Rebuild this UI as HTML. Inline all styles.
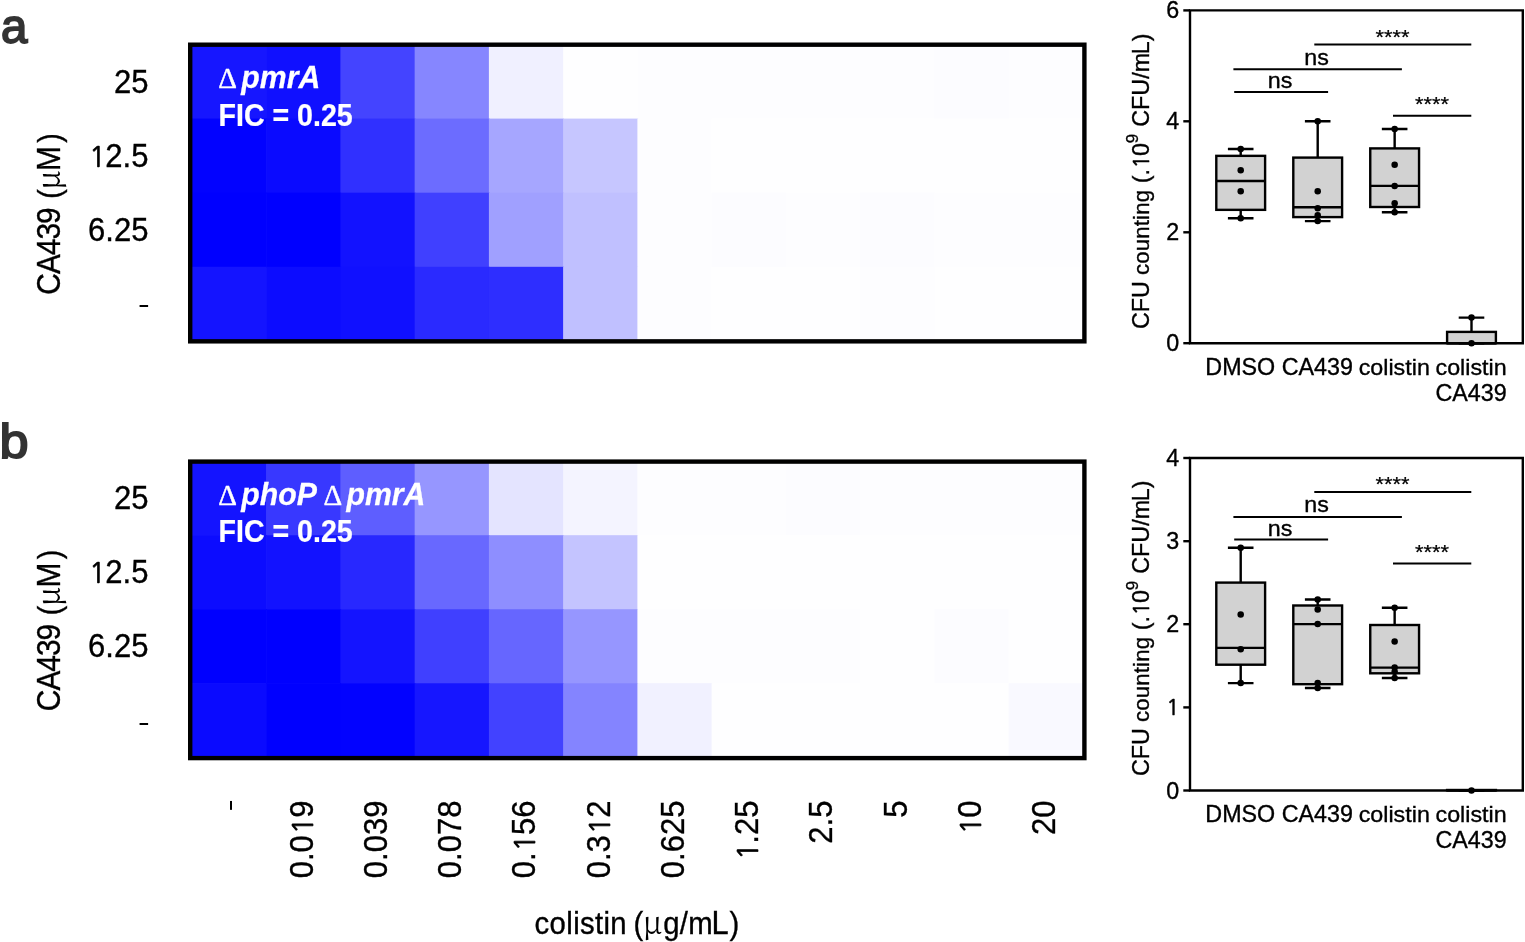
<!DOCTYPE html>
<html lang="en">
<head>
<meta charset="utf-8">
<title>Checkerboard assays and CFU counting</title>
<style>
html,body{margin:0;padding:0;background:#fff;}
body{width:1525px;height:942px;overflow:hidden;}
svg{display:block;font-family:'Liberation Sans', sans-serif;}
</style>
</head>
<body>
<svg width="1525" height="942" viewBox="0 0 1525 942">
<rect x="0" y="0" width="1525" height="942" fill="#fff"/>
<rect x="191.90" y="44.50" width="74.95" height="74.80" fill="#1616ff"/>
<rect x="266.15" y="44.50" width="74.95" height="74.80" fill="#1010ff"/>
<rect x="340.40" y="44.50" width="74.95" height="74.80" fill="#4444ff"/>
<rect x="414.65" y="44.50" width="74.95" height="74.80" fill="#8686ff"/>
<rect x="488.90" y="44.50" width="74.95" height="74.80" fill="#f0f0ff"/>
<rect x="563.15" y="44.50" width="74.95" height="74.80" fill="#fefeff"/>
<rect x="637.40" y="44.50" width="74.95" height="74.80" fill="#fdfdff"/>
<rect x="711.65" y="44.50" width="74.95" height="74.80" fill="#fdfdff"/>
<rect x="785.90" y="44.50" width="74.95" height="74.80" fill="#fdfdff"/>
<rect x="860.15" y="44.50" width="74.95" height="74.80" fill="#fdfdff"/>
<rect x="934.40" y="44.50" width="74.95" height="74.80" fill="#fcfcff"/>
<rect x="1008.65" y="44.50" width="74.95" height="74.80" fill="#fdfdff"/>
<rect x="191.90" y="118.60" width="74.95" height="74.80" fill="#0202ff"/>
<rect x="266.15" y="118.60" width="74.95" height="74.80" fill="#0a0aff"/>
<rect x="340.40" y="118.60" width="74.95" height="74.80" fill="#3030ff"/>
<rect x="414.65" y="118.60" width="74.95" height="74.80" fill="#6c6cff"/>
<rect x="488.90" y="118.60" width="74.95" height="74.80" fill="#a6a6ff"/>
<rect x="563.15" y="118.60" width="74.95" height="74.80" fill="#c6c6ff"/>
<rect x="637.40" y="118.60" width="74.95" height="74.80" fill="#fdfdff"/>
<rect x="711.65" y="118.60" width="74.95" height="74.80" fill="#fefeff"/>
<rect x="785.90" y="118.60" width="74.95" height="74.80" fill="#fefeff"/>
<rect x="860.15" y="118.60" width="74.95" height="74.80" fill="#fefeff"/>
<rect x="934.40" y="118.60" width="74.95" height="74.80" fill="#fefeff"/>
<rect x="1008.65" y="118.60" width="74.95" height="74.80" fill="#fefeff"/>
<rect x="191.90" y="192.70" width="74.95" height="74.80" fill="#0000ff"/>
<rect x="266.15" y="192.70" width="74.95" height="74.80" fill="#0000ff"/>
<rect x="340.40" y="192.70" width="74.95" height="74.80" fill="#1212ff"/>
<rect x="414.65" y="192.70" width="74.95" height="74.80" fill="#4040ff"/>
<rect x="488.90" y="192.70" width="74.95" height="74.80" fill="#a0a0ff"/>
<rect x="563.15" y="192.70" width="74.95" height="74.80" fill="#c0c0ff"/>
<rect x="637.40" y="192.70" width="74.95" height="74.80" fill="#fdfdff"/>
<rect x="711.65" y="192.70" width="74.95" height="74.80" fill="#fcfcff"/>
<rect x="785.90" y="192.70" width="74.95" height="74.80" fill="#fdfdff"/>
<rect x="860.15" y="192.70" width="74.95" height="74.80" fill="#fcfcff"/>
<rect x="934.40" y="192.70" width="74.95" height="74.80" fill="#fdfdff"/>
<rect x="1008.65" y="192.70" width="74.95" height="74.80" fill="#fdfdff"/>
<rect x="191.90" y="266.80" width="74.95" height="74.80" fill="#1414ff"/>
<rect x="266.15" y="266.80" width="74.95" height="74.80" fill="#0c0cff"/>
<rect x="340.40" y="266.80" width="74.95" height="74.80" fill="#1010ff"/>
<rect x="414.65" y="266.80" width="74.95" height="74.80" fill="#2a2aff"/>
<rect x="488.90" y="266.80" width="74.95" height="74.80" fill="#2e2eff"/>
<rect x="563.15" y="266.80" width="74.95" height="74.80" fill="#c0c0ff"/>
<rect x="637.40" y="266.80" width="74.95" height="74.80" fill="#fdfdff"/>
<rect x="711.65" y="266.80" width="74.95" height="74.80" fill="#fefeff"/>
<rect x="785.90" y="266.80" width="74.95" height="74.80" fill="#fefeff"/>
<rect x="860.15" y="266.80" width="74.95" height="74.80" fill="#fdfdff"/>
<rect x="934.40" y="266.80" width="74.95" height="74.80" fill="#fefeff"/>
<rect x="1008.65" y="266.80" width="74.95" height="74.80" fill="#fefeff"/>
<rect x="190.2" y="44.7" width="894.20" height="296.65" fill="none" stroke="#000" stroke-width="4.4"/>
<rect x="191.90" y="461.20" width="74.95" height="74.70" fill="#1414ff"/>
<rect x="266.15" y="461.20" width="74.95" height="74.70" fill="#3838ff"/>
<rect x="340.40" y="461.20" width="74.95" height="74.70" fill="#5e5eff"/>
<rect x="414.65" y="461.20" width="74.95" height="74.70" fill="#9696ff"/>
<rect x="488.90" y="461.20" width="74.95" height="74.70" fill="#e4e4ff"/>
<rect x="563.15" y="461.20" width="74.95" height="74.70" fill="#f4f4ff"/>
<rect x="637.40" y="461.20" width="74.95" height="74.70" fill="#fdfdff"/>
<rect x="711.65" y="461.20" width="74.95" height="74.70" fill="#fdfdff"/>
<rect x="785.90" y="461.20" width="74.95" height="74.70" fill="#fcfcff"/>
<rect x="860.15" y="461.20" width="74.95" height="74.70" fill="#fdfdff"/>
<rect x="934.40" y="461.20" width="74.95" height="74.70" fill="#fdfdff"/>
<rect x="1008.65" y="461.20" width="74.95" height="74.70" fill="#fdfdff"/>
<rect x="191.90" y="535.20" width="74.95" height="74.70" fill="#0c0cff"/>
<rect x="266.15" y="535.20" width="74.95" height="74.70" fill="#1212ff"/>
<rect x="340.40" y="535.20" width="74.95" height="74.70" fill="#2828ff"/>
<rect x="414.65" y="535.20" width="74.95" height="74.70" fill="#6868ff"/>
<rect x="488.90" y="535.20" width="74.95" height="74.70" fill="#8e8eff"/>
<rect x="563.15" y="535.20" width="74.95" height="74.70" fill="#c4c4ff"/>
<rect x="637.40" y="535.20" width="74.95" height="74.70" fill="#fefeff"/>
<rect x="711.65" y="535.20" width="74.95" height="74.70" fill="#fefeff"/>
<rect x="785.90" y="535.20" width="74.95" height="74.70" fill="#fefeff"/>
<rect x="860.15" y="535.20" width="74.95" height="74.70" fill="#fefeff"/>
<rect x="934.40" y="535.20" width="74.95" height="74.70" fill="#fefeff"/>
<rect x="1008.65" y="535.20" width="74.95" height="74.70" fill="#fefeff"/>
<rect x="191.90" y="609.20" width="74.95" height="74.70" fill="#0000ff"/>
<rect x="266.15" y="609.20" width="74.95" height="74.70" fill="#0000ff"/>
<rect x="340.40" y="609.20" width="74.95" height="74.70" fill="#1414ff"/>
<rect x="414.65" y="609.20" width="74.95" height="74.70" fill="#4040ff"/>
<rect x="488.90" y="609.20" width="74.95" height="74.70" fill="#6666ff"/>
<rect x="563.15" y="609.20" width="74.95" height="74.70" fill="#9696ff"/>
<rect x="637.40" y="609.20" width="74.95" height="74.70" fill="#fdfdff"/>
<rect x="711.65" y="609.20" width="74.95" height="74.70" fill="#fdfdff"/>
<rect x="785.90" y="609.20" width="74.95" height="74.70" fill="#fdfdff"/>
<rect x="860.15" y="609.20" width="74.95" height="74.70" fill="#fefeff"/>
<rect x="934.40" y="609.20" width="74.95" height="74.70" fill="#fcfcff"/>
<rect x="1008.65" y="609.20" width="74.95" height="74.70" fill="#fefeff"/>
<rect x="191.90" y="683.20" width="74.95" height="74.70" fill="#0a0aff"/>
<rect x="266.15" y="683.20" width="74.95" height="74.70" fill="#0000ff"/>
<rect x="340.40" y="683.20" width="74.95" height="74.70" fill="#0202ff"/>
<rect x="414.65" y="683.20" width="74.95" height="74.70" fill="#1616ff"/>
<rect x="488.90" y="683.20" width="74.95" height="74.70" fill="#4242ff"/>
<rect x="563.15" y="683.20" width="74.95" height="74.70" fill="#8484ff"/>
<rect x="637.40" y="683.20" width="74.95" height="74.70" fill="#f1f1ff"/>
<rect x="711.65" y="683.20" width="74.95" height="74.70" fill="#fefeff"/>
<rect x="785.90" y="683.20" width="74.95" height="74.70" fill="#fefeff"/>
<rect x="860.15" y="683.20" width="74.95" height="74.70" fill="#fefeff"/>
<rect x="934.40" y="683.20" width="74.95" height="74.70" fill="#fefeff"/>
<rect x="1008.65" y="683.20" width="74.95" height="74.70" fill="#f9f9ff"/>
<rect x="190.2" y="461.6" width="894.20" height="296.50" fill="none" stroke="#000" stroke-width="4.4"/>
<text transform="translate(148.40,93.00) scale(0.952,1)" font-size="32.6" text-anchor="end" stroke="#000" stroke-width="0.35">25</text>
<text transform="translate(148.40,166.80) scale(0.952,1)" font-size="32.6" text-anchor="end" stroke="#000" stroke-width="0.35"><tspan font-family="NanumGothic, 'Liberation Sans', sans-serif" font-size="29.34" stroke-width="0.7">1</tspan><tspan dx="-0.59">2.5</tspan></text>
<text transform="translate(148.40,240.60) scale(0.952,1)" font-size="32.6" text-anchor="end" stroke="#000" stroke-width="0.35">6.25</text>
<text transform="translate(149.80,313.00) scale(1.076,0.8)" font-size="32.6" text-anchor="end">-</text>
<text transform="translate(148.40,509.40) scale(0.952,1)" font-size="32.6" text-anchor="end" stroke="#000" stroke-width="0.35">25</text>
<text transform="translate(148.40,583.30) scale(0.952,1)" font-size="32.6" text-anchor="end" stroke="#000" stroke-width="0.35"><tspan font-family="NanumGothic, 'Liberation Sans', sans-serif" font-size="29.34" stroke-width="0.7">1</tspan><tspan dx="-0.59">2.5</tspan></text>
<text transform="translate(148.40,657.40) scale(0.952,1)" font-size="32.6" text-anchor="end" stroke="#000" stroke-width="0.35">6.25</text>
<text transform="translate(149.80,730.60) scale(1.076,0.8)" font-size="32.6" text-anchor="end">-</text>
<text transform="translate(60.20,294.70) rotate(-90) scale(0.92,1)" font-size="32.5" stroke="#000" stroke-width="0.35"><tspan x="0.00" font-size="32.5" letter-spacing="-1.1">CA439 </tspan><tspan x="104.35" font-size="30.9">(</tspan><tspan x="114.13" font-size="33" font-family="'Noto Serif CJK SC', 'Liberation Serif', serif" stroke-width="0">μ</tspan><tspan x="134.57" font-size="32.5">M</tspan><tspan x="165.22" font-size="30.9">)</tspan></text>
<text transform="translate(60.20,711.20) rotate(-90) scale(0.92,1)" font-size="32.5" stroke="#000" stroke-width="0.35"><tspan x="0.00" font-size="32.5" letter-spacing="-1.1">CA439 </tspan><tspan x="104.35" font-size="30.9">(</tspan><tspan x="114.13" font-size="33" font-family="'Noto Serif CJK SC', 'Liberation Serif', serif" stroke-width="0">μ</tspan><tspan x="134.57" font-size="32.5">M</tspan><tspan x="165.22" font-size="30.9">)</tspan></text>
<text transform="translate(218.30,88.00) scale(0.96,1)" font-size="31.5" stroke="#fff" stroke-width="0.25" fill="#fff" font-weight="bold" font-style="italic"><tspan x="0.00" font-size="30.3" font-family="'Liberation Serif', serif" font-weight="normal" font-style="normal" stroke-width="0.4">Δ</tspan><tspan x="23.96" font-size="31.5">pmrA</tspan></text>
<text transform="translate(218.50,125.90) scale(0.902,1)" font-size="31.7" stroke="#fff" stroke-width="0.25" fill="#fff" font-weight="bold">FIC = 0.25</text>
<text transform="translate(218.30,504.60) scale(0.96,1)" font-size="31.5" stroke="#fff" stroke-width="0.25" fill="#fff" font-weight="bold" font-style="italic"><tspan x="0.00" font-size="30.3" font-family="'Liberation Serif', serif" font-weight="normal" font-style="normal" stroke-width="0.4">Δ</tspan><tspan x="23.96" font-size="31.5">phoP </tspan><tspan x="109.58" font-size="30.3" font-family="'Liberation Serif', serif" font-weight="normal" font-style="normal" stroke-width="0.4">Δ</tspan><tspan x="133.54" font-size="31.5">pmrA</tspan></text>
<text transform="translate(218.50,542.00) scale(0.902,1)" font-size="31.7" stroke="#fff" stroke-width="0.25" fill="#fff" font-weight="bold">FIC = 0.25</text>
<text transform="translate(237.83,799.20) rotate(-90) scale(1.123,0.8)" font-size="32.6" text-anchor="end">-</text>
<text transform="translate(312.67,800.60) rotate(-90) scale(0.952,1)" font-size="32.6" text-anchor="end" stroke="#000" stroke-width="0.35">0.0<tspan font-family="NanumGothic, 'Liberation Sans', sans-serif" font-size="29.34" stroke-width="0.7" dx="0.95">1</tspan><tspan dx="-0.59">9</tspan></text>
<text transform="translate(386.92,800.60) rotate(-90) scale(0.952,1)" font-size="32.6" text-anchor="end" stroke="#000" stroke-width="0.35">0.039</text>
<text transform="translate(461.17,800.60) rotate(-90) scale(0.952,1)" font-size="32.6" text-anchor="end" stroke="#000" stroke-width="0.35">0.078</text>
<text transform="translate(535.42,800.60) rotate(-90) scale(0.952,1)" font-size="32.6" text-anchor="end" stroke="#000" stroke-width="0.35">0.<tspan font-family="NanumGothic, 'Liberation Sans', sans-serif" font-size="29.34" stroke-width="0.7" dx="0.95">1</tspan><tspan dx="-0.59">56</tspan></text>
<text transform="translate(609.67,800.60) rotate(-90) scale(0.952,1)" font-size="32.6" text-anchor="end" stroke="#000" stroke-width="0.35">0.3<tspan font-family="NanumGothic, 'Liberation Sans', sans-serif" font-size="29.34" stroke-width="0.7" dx="0.95">1</tspan><tspan dx="-0.59">2</tspan></text>
<text transform="translate(683.92,800.60) rotate(-90) scale(0.952,1)" font-size="32.6" text-anchor="end" stroke="#000" stroke-width="0.35">0.625</text>
<text transform="translate(758.17,800.60) rotate(-90) scale(0.952,1)" font-size="32.6" text-anchor="end" stroke="#000" stroke-width="0.35"><tspan font-family="NanumGothic, 'Liberation Sans', sans-serif" font-size="29.34" stroke-width="0.7">1</tspan><tspan dx="-0.59">.25</tspan></text>
<text transform="translate(832.42,800.60) rotate(-90) scale(0.952,1)" font-size="32.6" text-anchor="end" stroke="#000" stroke-width="0.35">2.5</text>
<text transform="translate(906.67,800.60) rotate(-90) scale(0.952,1)" font-size="32.6" text-anchor="end" stroke="#000" stroke-width="0.35">5</text>
<text transform="translate(980.92,800.60) rotate(-90) scale(0.952,1)" font-size="32.6" text-anchor="end" stroke="#000" stroke-width="0.35"><tspan font-family="NanumGothic, 'Liberation Sans', sans-serif" font-size="29.34" stroke-width="0.7">1</tspan><tspan dx="-0.59">0</tspan></text>
<text transform="translate(1055.18,800.60) rotate(-90) scale(0.952,1)" font-size="32.6" text-anchor="end" stroke="#000" stroke-width="0.35">20</text>
<text transform="translate(534.60,933.60) scale(0.95,1)" font-size="30.9" stroke="#000" stroke-width="0.35"><tspan x="0.00" font-size="30.9" letter-spacing="0.36">colistin </tspan><tspan x="104.11" font-size="30.9">(</tspan><tspan x="113.79" font-size="32.5" font-family="'Noto Serif CJK SC', 'Liberation Serif', serif" stroke-width="0">μ</tspan><tspan x="135.47" font-size="30.9" letter-spacing="0.25">g/m</tspan><tspan x="186.21" font-size="32.5">L</tspan><tspan x="205.16" font-size="30.9">)</tspan></text>
<text transform="translate(1.00,43.00)" font-size="47.5" fill="#333" stroke="#333" stroke-width="1.8" stroke-linejoin="miter">a</text>
<text transform="translate(-0.60,457.60) scale(1.1,1)" font-size="47.5" fill="#333" stroke="#333" stroke-width="1.8" stroke-linejoin="miter">b</text>
<path d="M1190.0,10.4 H1522.8 V343.2 H1190.0 Z" fill="none" stroke="#000" stroke-width="2.4"/>
<line x1="1183.3" y1="10.4" x2="1190.0" y2="10.4" stroke="#000" stroke-width="2.4"/>
<text transform="translate(1179.20,18.40) scale(0.975,1)" font-size="23.9" text-anchor="end" stroke="#000" stroke-width="0.35">6</text>
<line x1="1183.3" y1="121.3" x2="1190.0" y2="121.3" stroke="#000" stroke-width="2.4"/>
<text transform="translate(1179.20,129.30) scale(0.975,1)" font-size="23.9" text-anchor="end" stroke="#000" stroke-width="0.35">4</text>
<line x1="1183.3" y1="232.3" x2="1190.0" y2="232.3" stroke="#000" stroke-width="2.4"/>
<text transform="translate(1179.20,240.30) scale(0.975,1)" font-size="23.9" text-anchor="end" stroke="#000" stroke-width="0.35">2</text>
<line x1="1183.3" y1="343.2" x2="1190.0" y2="343.2" stroke="#000" stroke-width="2.4"/>
<text transform="translate(1179.20,351.20) scale(0.975,1)" font-size="23.9" text-anchor="end" stroke="#000" stroke-width="0.35">0</text>
<path d="M1240.7,149.0 V218.2 M1227.9,149.0 H1253.5 M1227.9,218.2 H1253.5" stroke="#000" stroke-width="2.4" fill="none"/>
<rect x="1216.30" y="155.85" width="48.8" height="54.00" fill="#d2d2d2" stroke="#000" stroke-width="2.4"/>
<line x1="1216.30" y1="181.0" x2="1265.10" y2="181.0" stroke="#000" stroke-width="2.4"/>
<circle cx="1240.7" cy="149.0" r="3.25" fill="#000"/>
<circle cx="1240.7" cy="170.3" r="3.25" fill="#000"/>
<circle cx="1240.7" cy="191.3" r="3.25" fill="#000"/>
<circle cx="1240.7" cy="218.2" r="3.25" fill="#000"/>
<path d="M1317.7,121.3 V221.1 M1304.9,121.3 H1330.5 M1304.9,221.1 H1330.5" stroke="#000" stroke-width="2.4" fill="none"/>
<rect x="1293.30" y="157.6" width="48.8" height="59.50" fill="#d2d2d2" stroke="#000" stroke-width="2.4"/>
<line x1="1293.30" y1="207.3" x2="1342.10" y2="207.3" stroke="#000" stroke-width="2.4"/>
<circle cx="1317.7" cy="121.3" r="3.25" fill="#000"/>
<circle cx="1317.7" cy="191.3" r="3.25" fill="#000"/>
<circle cx="1317.7" cy="208.2" r="3.25" fill="#000"/>
<circle cx="1317.7" cy="215.2" r="3.25" fill="#000"/>
<circle cx="1317.7" cy="221.1" r="3.25" fill="#000"/>
<path d="M1394.65,129.0 V212.2 M1381.8500000000001,129.0 H1407.45 M1381.8500000000001,212.2 H1407.45" stroke="#000" stroke-width="2.4" fill="none"/>
<rect x="1370.25" y="148.4" width="48.8" height="58.60" fill="#d2d2d2" stroke="#000" stroke-width="2.4"/>
<line x1="1370.25" y1="185.9" x2="1419.05" y2="185.9" stroke="#000" stroke-width="2.4"/>
<circle cx="1394.65" cy="129.0" r="3.25" fill="#000"/>
<circle cx="1394.65" cy="164.8" r="3.25" fill="#000"/>
<circle cx="1394.65" cy="185.9" r="3.25" fill="#000"/>
<circle cx="1394.65" cy="203.3" r="3.25" fill="#000"/>
<circle cx="1394.65" cy="212.2" r="3.25" fill="#000"/>
<path d="M1471.5,317.6 V343.2 M1458.7,317.6 H1484.3 M1458.7,343.2 H1484.3" stroke="#000" stroke-width="2.4" fill="none"/>
<rect x="1447.10" y="331.9" width="48.8" height="11.30" fill="#d2d2d2" stroke="#000" stroke-width="2.4"/>
<line x1="1447.10" y1="343.2" x2="1495.90" y2="343.2" stroke="#000" stroke-width="2.4"/>
<circle cx="1471.5" cy="317.6" r="3.25" fill="#000"/>
<circle cx="1471.5" cy="343.2" r="3.25" fill="#000"/>
<line x1="1234.2" y1="91.9" x2="1328.1" y2="91.9" stroke="#000" stroke-width="2"/>
<text transform="translate(1280.10,87.90) scale(1.03,1)" font-size="22.6" text-anchor="middle" stroke="#000" stroke-width="0.35">ns</text>
<line x1="1233.4" y1="69.3" x2="1401.9" y2="69.3" stroke="#000" stroke-width="2"/>
<text transform="translate(1316.60,64.50) scale(1.03,1)" font-size="22.6" text-anchor="middle" stroke="#000" stroke-width="0.35">ns</text>
<line x1="1314.3" y1="44.4" x2="1471.3" y2="44.4" stroke="#000" stroke-width="2"/>
<text transform="translate(1392.60,43.70) scale(1.065,1)" font-size="20.5" text-anchor="middle" stroke="#000" stroke-width="0.25">****</text>
<line x1="1393.0" y1="115.8" x2="1471.3" y2="115.8" stroke="#000" stroke-width="2"/>
<text transform="translate(1431.90,111.20) scale(1.065,1)" font-size="20.5" text-anchor="middle" stroke="#000" stroke-width="0.25">****</text>
<text transform="translate(1240.30,374.60) scale(0.975,1)" font-size="23.9" text-anchor="middle" stroke="#000" stroke-width="0.35">DMSO</text>
<text transform="translate(1317.30,374.60) scale(0.975,1)" font-size="23.9" text-anchor="middle" stroke="#000" stroke-width="0.35">CA439</text>
<text transform="translate(1394.25,374.60) scale(1.026,1)" font-size="22.7" text-anchor="middle" stroke="#000" stroke-width="0.35">colistin</text>
<text transform="translate(1471.10,374.60) scale(1.026,1)" font-size="22.7" text-anchor="middle" stroke="#000" stroke-width="0.35">colistin</text>
<text transform="translate(1471.10,400.70) scale(0.975,1)" font-size="23.9" text-anchor="middle" stroke="#000" stroke-width="0.35">CA439</text>
<text transform="translate(1149.30,329.00) rotate(-90) scale(0.975,1)" font-size="23.9" stroke="#000" stroke-width="0.35"><tspan x="0.00" font-size="23.9">CFU </tspan><tspan x="55.38" font-size="22.7" letter-spacing="0.2">counting </tspan><tspan x="149.54" font-size="23.9">(.<tspan font-family="NanumGothic, 'Liberation Sans', sans-serif" font-size="21.51" stroke-width="0.7" dx="0.69">1</tspan><tspan dx="-0.43">0</tspan></tspan><tspan x="190.56" font-size="17.4" dy="-11">9</tspan><tspan x="200.84" font-size="23.9" dy="11"> CFU/m</tspan><tspan x="281.74" font-size="23.9">L)</tspan></text>
<path d="M1190.0,458.0 H1522.8 V790.5 H1190.0 Z" fill="none" stroke="#000" stroke-width="2.4"/>
<line x1="1183.3" y1="458.0" x2="1190.0" y2="458.0" stroke="#000" stroke-width="2.4"/>
<text transform="translate(1179.20,466.00) scale(0.975,1)" font-size="23.9" text-anchor="end" stroke="#000" stroke-width="0.35">4</text>
<line x1="1183.3" y1="541.2" x2="1190.0" y2="541.2" stroke="#000" stroke-width="2.4"/>
<text transform="translate(1179.20,549.20) scale(0.975,1)" font-size="23.9" text-anchor="end" stroke="#000" stroke-width="0.35">3</text>
<line x1="1183.3" y1="624.2" x2="1190.0" y2="624.2" stroke="#000" stroke-width="2.4"/>
<text transform="translate(1179.20,632.20) scale(0.975,1)" font-size="23.9" text-anchor="end" stroke="#000" stroke-width="0.35">2</text>
<line x1="1183.3" y1="707.4" x2="1190.0" y2="707.4" stroke="#000" stroke-width="2.4"/>
<text transform="translate(1179.20,715.40) scale(0.975,1)" font-size="23.9" text-anchor="end" stroke="#000" stroke-width="0.35"><tspan font-family="NanumGothic, 'Liberation Sans', sans-serif" font-size="21.51" stroke-width="0.7">1</tspan></text>
<line x1="1183.3" y1="790.5" x2="1190.0" y2="790.5" stroke="#000" stroke-width="2.4"/>
<text transform="translate(1179.20,798.50) scale(0.975,1)" font-size="23.9" text-anchor="end" stroke="#000" stroke-width="0.35">0</text>
<path d="M1240.7,547.7 V683.1 M1227.9,547.7 H1253.5 M1227.9,683.1 H1253.5" stroke="#000" stroke-width="2.4" fill="none"/>
<rect x="1216.30" y="582.6" width="48.8" height="82.10" fill="#d2d2d2" stroke="#000" stroke-width="2.4"/>
<line x1="1216.30" y1="647.9" x2="1265.10" y2="647.9" stroke="#000" stroke-width="2.4"/>
<circle cx="1240.7" cy="547.7" r="3.25" fill="#000"/>
<circle cx="1240.7" cy="614.5" r="3.25" fill="#000"/>
<circle cx="1240.7" cy="649.2" r="3.25" fill="#000"/>
<circle cx="1240.7" cy="683.1" r="3.25" fill="#000"/>
<path d="M1317.7,599.5 V688.0 M1304.9,599.5 H1330.5 M1304.9,688.0 H1330.5" stroke="#000" stroke-width="2.4" fill="none"/>
<rect x="1293.30" y="605.5" width="48.8" height="78.70" fill="#d2d2d2" stroke="#000" stroke-width="2.4"/>
<line x1="1293.30" y1="624.1" x2="1342.10" y2="624.1" stroke="#000" stroke-width="2.4"/>
<circle cx="1317.7" cy="599.5" r="3.25" fill="#000"/>
<circle cx="1317.7" cy="609.4" r="3.25" fill="#000"/>
<circle cx="1317.7" cy="624.1" r="3.25" fill="#000"/>
<circle cx="1317.7" cy="683.1" r="3.25" fill="#000"/>
<circle cx="1317.7" cy="688.0" r="3.25" fill="#000"/>
<path d="M1394.65,607.8 V678.0 M1381.8500000000001,607.8 H1407.45 M1381.8500000000001,678.0 H1407.45" stroke="#000" stroke-width="2.4" fill="none"/>
<rect x="1370.25" y="625.0" width="48.8" height="48.30" fill="#d2d2d2" stroke="#000" stroke-width="2.4"/>
<line x1="1370.25" y1="667.6" x2="1419.05" y2="667.6" stroke="#000" stroke-width="2.4"/>
<circle cx="1394.65" cy="607.8" r="3.25" fill="#000"/>
<circle cx="1394.65" cy="641.4" r="3.25" fill="#000"/>
<circle cx="1394.65" cy="667.6" r="3.25" fill="#000"/>
<circle cx="1394.65" cy="671.7" r="3.25" fill="#000"/>
<circle cx="1394.65" cy="678.0" r="3.25" fill="#000"/>
<path d="M1471.5,790.5 V790.5 M1458.7,790.5 H1484.3 M1458.7,790.5 H1484.3" stroke="#000" stroke-width="2.4" fill="none"/>
<rect x="1447.10" y="790.0" width="48.8" height="0.40" fill="#d2d2d2" stroke="#000" stroke-width="2.4"/>
<line x1="1447.10" y1="790.2" x2="1495.90" y2="790.2" stroke="#000" stroke-width="2.4"/>
<circle cx="1471.5" cy="790.5" r="3.25" fill="#000"/>
<line x1="1234.2" y1="539.5" x2="1328.1" y2="539.5" stroke="#000" stroke-width="2"/>
<text transform="translate(1280.10,535.50) scale(1.03,1)" font-size="22.6" text-anchor="middle" stroke="#000" stroke-width="0.35">ns</text>
<line x1="1233.4" y1="516.9" x2="1401.9" y2="516.9" stroke="#000" stroke-width="2"/>
<text transform="translate(1316.60,512.10) scale(1.03,1)" font-size="22.6" text-anchor="middle" stroke="#000" stroke-width="0.35">ns</text>
<line x1="1314.3" y1="492.0" x2="1471.3" y2="492.0" stroke="#000" stroke-width="2"/>
<text transform="translate(1392.60,491.30) scale(1.065,1)" font-size="20.5" text-anchor="middle" stroke="#000" stroke-width="0.25">****</text>
<line x1="1393.0" y1="563.4" x2="1471.3" y2="563.4" stroke="#000" stroke-width="2"/>
<text transform="translate(1431.90,558.80) scale(1.065,1)" font-size="20.5" text-anchor="middle" stroke="#000" stroke-width="0.25">****</text>
<text transform="translate(1240.30,821.90) scale(0.975,1)" font-size="23.9" text-anchor="middle" stroke="#000" stroke-width="0.35">DMSO</text>
<text transform="translate(1317.30,821.90) scale(0.975,1)" font-size="23.9" text-anchor="middle" stroke="#000" stroke-width="0.35">CA439</text>
<text transform="translate(1394.25,821.90) scale(1.026,1)" font-size="22.7" text-anchor="middle" stroke="#000" stroke-width="0.35">colistin</text>
<text transform="translate(1471.10,821.90) scale(1.026,1)" font-size="22.7" text-anchor="middle" stroke="#000" stroke-width="0.35">colistin</text>
<text transform="translate(1471.10,848.00) scale(0.975,1)" font-size="23.9" text-anchor="middle" stroke="#000" stroke-width="0.35">CA439</text>
<text transform="translate(1149.30,776.00) rotate(-90) scale(0.975,1)" font-size="23.9" stroke="#000" stroke-width="0.35"><tspan x="0.00" font-size="23.9">CFU </tspan><tspan x="55.38" font-size="22.7" letter-spacing="0.2">counting </tspan><tspan x="149.54" font-size="23.9">(.<tspan font-family="NanumGothic, 'Liberation Sans', sans-serif" font-size="21.51" stroke-width="0.7" dx="0.69">1</tspan><tspan dx="-0.43">0</tspan></tspan><tspan x="190.56" font-size="17.4" dy="-11">9</tspan><tspan x="200.84" font-size="23.9" dy="11"> CFU/m</tspan><tspan x="281.74" font-size="23.9">L)</tspan></text>
</svg>
</body>
</html>
